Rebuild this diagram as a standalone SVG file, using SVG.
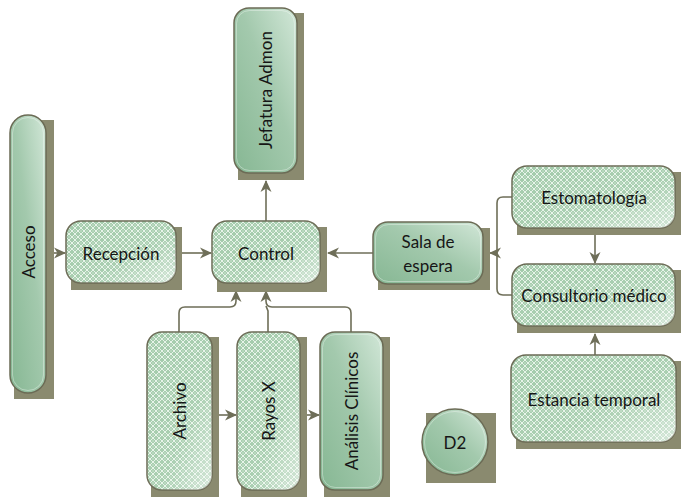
<svg xmlns="http://www.w3.org/2000/svg" width="681" height="501" viewBox="0 0 681 501">
  <defs>
    <style>
      .shadow { fill: #8a8a6f; }
      .box { stroke: #6b6b55; stroke-width: 1.5; }
      .solid { fill: url(#solidGrad); }
      .hatch { fill: url(#hatch); }
      .gloss { fill: url(#glossGrad); stroke: none; }
      .inner { fill: none; stroke: #ffffff; stroke-opacity: 0.35; stroke-width: 1; }
      .label { font-family: Lato, "Open Sans", "Liberation Sans", sans-serif; font-size: 17px; fill: #161616; text-anchor: middle; dominant-baseline: central; }
      .conn { fill: none; stroke: #6e6e58; stroke-width: 1.6; }
      .arrow { marker-end: url(#head); }
    </style>
    <linearGradient id="solidGrad" x1="0" y1="1" x2="1" y2="0">
      <stop offset="0" stop-color="#86b793"/>
      <stop offset="0.55" stop-color="#a3c9ad"/>
      <stop offset="1" stop-color="#d2e7d8"/>
    </linearGradient>
    <linearGradient id="glossGrad" x1="0" y1="0" x2="1" y2="1">
      <stop offset="0" stop-color="#ffffff" stop-opacity="0"/>
      <stop offset="0.6" stop-color="#ffffff" stop-opacity="0.08"/>
      <stop offset="1" stop-color="#ffffff" stop-opacity="0.55"/>
    </linearGradient>
    <pattern id="hatch" width="6" height="6" patternUnits="userSpaceOnUse">
      <rect width="6" height="6" fill="#a3cbab"/>
      <path d="M0,3 L3,0 L6,3 L3,6 Z" fill="none" stroke="#e6f3e8" stroke-width="1"/>
      <rect x="2.5" y="2.5" width="1" height="1" fill="#e6f3e8"/>
    </pattern>
    <marker id="head" viewBox="0 0 12 12" markerWidth="12" markerHeight="12" refX="11" refY="6" orient="auto" markerUnits="userSpaceOnUse">
      <path d="M0,0.5 L12,6 L0,11.5 L3.5,6 Z" fill="#6e6e58"/>
    </marker>
  </defs>

  <!-- connectors -->
  <g id="connectors">
    <path class="conn arrow" d="M54,253 H65"/>
    <path class="conn arrow" d="M182,253 H211"/>
    <path class="conn arrow" d="M266,221 V181"/>
    <path class="conn arrow" d="M373,253 H328"/>
    <path class="conn" d="M512,197 H503 Q497,197 497,203 V289 Q497,295 503,295 H512"/>
    <path class="conn arrow" d="M497,253 H490"/>
    <path class="conn arrow" d="M595,235 V263"/>
    <path class="conn arrow" d="M595,355 V334"/>
    <path class="conn arrow" d="M212,415 H236"/>
    <path class="conn arrow" d="M307,415 H319"/>
    <path class="conn arrow" d="M179,332 V313 Q179,307 185,307 H230 Q236,307 236,301 V291"/>
    <path class="conn" d="M268,332 V311 L266,306"/>
    <path class="conn arrow" d="M351,332 V313 Q351,307 345,307 H272 Q266,307 266,301 V291"/>
  </g>

  <!-- Acceso -->
  <g id="acceso">
    <rect class="shadow" x="14" y="120" width="40" height="279"/>
    <rect class="box solid" x="10" y="115" width="36" height="278" rx="18"/>
    <rect class="inner" x="12.5" y="117.5" width="31" height="273" rx="15.5"/>
    <text class="label" transform="translate(28,252) rotate(-90)">Acceso</text>
  </g>

  <!-- Recepción -->
  <g id="recepcion">
    <rect class="shadow" x="71" y="227" width="111" height="63"/>
    <rect class="box hatch" x="66" y="221" width="110" height="62" rx="15"/>
    <rect class="box gloss" x="66" y="221" width="110" height="62" rx="15"/>
    <text class="label" x="121" y="253">Recepción</text>
  </g>

  <!-- Control -->
  <g id="control">
    <rect class="shadow" x="217" y="227" width="110" height="65"/>
    <rect class="box hatch" x="212" y="221" width="108" height="62" rx="15"/>
    <rect class="box gloss" x="212" y="221" width="108" height="62" rx="15"/>
    <text class="label" x="266" y="253">Control</text>
  </g>

  <!-- Jefatura Admon -->
  <g id="jefatura">
    <rect class="shadow" x="238" y="13" width="66" height="167"/>
    <rect class="box solid" x="234" y="8" width="63" height="165" rx="15"/>
    <rect class="inner" x="236.5" y="10.5" width="58" height="160" rx="13"/>
    <text class="label" transform="translate(265,90) rotate(-90)">Jefatura Admon</text>
  </g>

  <!-- Sala de espera -->
  <g id="sala">
    <rect class="shadow" x="378" y="228" width="112" height="62"/>
    <rect class="box solid" x="373" y="222" width="110" height="62" rx="15"/>
    <rect class="inner" x="375.5" y="224.5" width="105" height="57" rx="13"/>
    <text class="label" x="428" y="241">Sala de</text>
    <text class="label" x="428" y="265">espera</text>
  </g>

  <!-- Estomatología -->
  <g id="estomatologia">
    <rect class="shadow" x="517" y="172" width="164" height="63"/>
    <rect class="box hatch" x="512" y="166" width="163" height="62" rx="15"/>
    <rect class="box gloss" x="512" y="166" width="163" height="62" rx="15"/>
    <text class="label" x="594" y="197">Estomatología</text>
  </g>

  <!-- Consultorio médico -->
  <g id="consultorio">
    <rect class="shadow" x="517" y="270" width="164" height="63"/>
    <rect class="box hatch" x="512" y="264" width="163" height="62" rx="15"/>
    <rect class="box gloss" x="512" y="264" width="163" height="62" rx="15"/>
    <text class="label" x="594" y="295">Consultorio médico</text>
  </g>

  <!-- Estancia temporal -->
  <g id="estancia">
    <rect class="shadow" x="516" y="361" width="165" height="88"/>
    <rect class="box hatch" x="511" y="355" width="165" height="87" rx="15"/>
    <rect class="box gloss" x="511" y="355" width="165" height="87" rx="15"/>
    <text class="label" x="594" y="399">Estancia temporal</text>
  </g>

  <!-- Archivo -->
  <g id="archivo">
    <rect class="shadow" x="151" y="337" width="68" height="160"/>
    <rect class="box hatch" x="147" y="332" width="65" height="158" rx="15"/>
    <rect class="box gloss" x="147" y="332" width="65" height="158" rx="15"/>
    <text class="label" transform="translate(179,411) rotate(-90)">Archivo</text>
  </g>

  <!-- Rayos X -->
  <g id="rayos">
    <rect class="shadow" x="241" y="337" width="66" height="160"/>
    <rect class="box hatch" x="237" y="332" width="63" height="158" rx="15"/>
    <rect class="box gloss" x="237" y="332" width="63" height="158" rx="15"/>
    <text class="label" transform="translate(268,411) rotate(-90)">Rayos X</text>
  </g>

  <!-- Análisis Clínicos -->
  <g id="analisis">
    <rect class="shadow" x="324" y="337" width="66" height="160"/>
    <rect class="box solid" x="320" y="332" width="63" height="158" rx="15"/>
    <rect class="inner" x="322.5" y="334.5" width="58" height="153" rx="13"/>
    <text class="label" transform="translate(351,411) rotate(-90)">Análisis Clínicos</text>
  </g>

  <!-- D2 -->
  <g id="d2">
    <rect class="shadow" x="426" y="413" width="70" height="70"/>
    <circle class="box solid" cx="455" cy="442" r="33"/>
    <circle class="inner" cx="455" cy="442" r="30.5"/>
    <text class="label" x="455" y="442">D2</text>
  </g>
</svg>
